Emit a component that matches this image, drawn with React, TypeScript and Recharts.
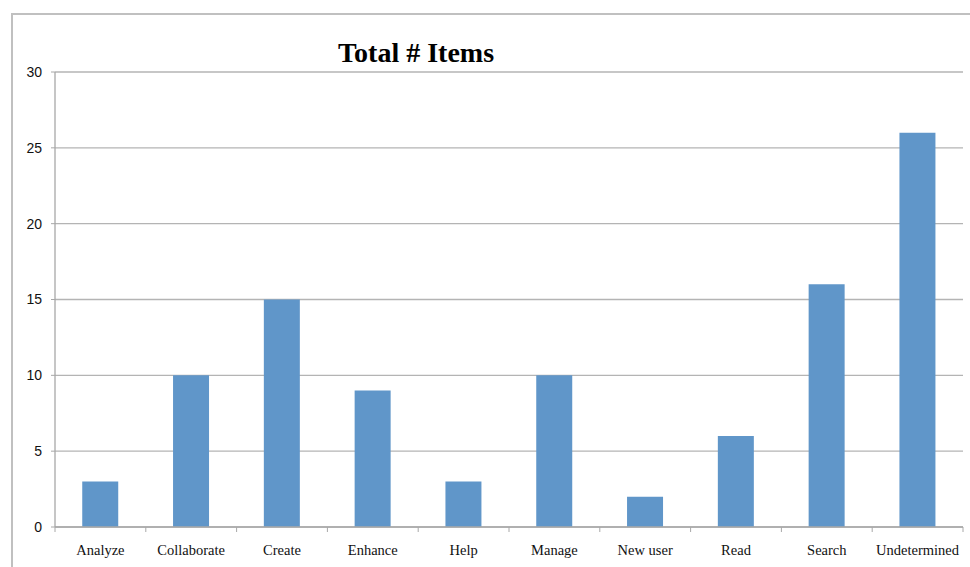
import { BarChart, Bar, XAxis, YAxis, CartesianGrid } from 'recharts';

const categories = ['Analyze', 'Collaborate', 'Create', 'Enhance', 'Help', 'Manage', 'New user', 'Read', 'Search', 'Undetermined'];
const totals = [3, 10, 15, 9, 3, 10, 2, 6, 16, 26];
const yTicks = [0, 5, 10, 15, 20, 25, 30];

const data = categories.map((name, i) => ({ name, total: totals[i] }));

const W = 970;
const H = 567;
const M = { top: 72, right: 7, bottom: 10, left: 10 };
const Y_W = 45;
const X_H = 30;
const band = (W - M.left - Y_W - M.right) / categories.length;

// label in the middle, tick mark on the category border (like Excel)
function CatTick({ x, y, payload, index }: any) {
  const last = index === categories.length - 1;
  return (
    <g>
      <line x1={x - band / 2} x2={x - band / 2} y1={y - 8} y2={y - 3} stroke="#a8a8a8" />
      {last && <line x1={x + band / 2} x2={x + band / 2} y1={y - 8} y2={y - 3} stroke="#a8a8a8" />}
      <text x={x} y={y + 20} textAnchor="middle" fontFamily="'Liberation Serif', serif" fontSize={14.5} fill="#111">
        {payload.value}
      </text>
    </g>
  );
}

export default function App() {
  return (
    <div style={{ position: 'absolute', left: 0, top: 0, width: W, height: H, background: '#fff', overflow: 'hidden' }}>
      <div style={{ position: 'absolute', left: 11, top: 13, width: 1000, height: 600, border: '2px solid #c0c0c0' }} />
      <div
        style={{
          position: 'absolute', left: 338, top: 37, fontFamily: "'Liberation Serif', serif",
          fontWeight: 'bold', fontSize: 28, color: '#000', whiteSpace: 'nowrap', lineHeight: '32px',
        }}
      >
        Total # Items
      </div>
      <div style={{ position: 'absolute', left: 0, top: 0 }}>
        <BarChart width={W} height={H} data={data} margin={M} barCategoryGap="30%">
          <CartesianGrid vertical={false} stroke="#b4b4b4" strokeWidth={1.3} />
          <XAxis
            dataKey="name"
            height={X_H}
            axisLine={{ stroke: '#a8a8a8', strokeWidth: 1.3 }}
            tickLine={false}
            tick={<CatTick />}
            interval={0}
          />
          <YAxis
            domain={[0, 30]}
            ticks={yTicks}
            width={Y_W}
            tickSize={4}
            tickMargin={9}
            axisLine={{ stroke: '#a8a8a8', strokeWidth: 1.3 }}
            tickLine={{ stroke: '#a8a8a8' }}
            tick={{ fontFamily: "'Liberation Sans', Arial, sans-serif", fontSize: 14, fill: '#111' }}
          />
          <Bar dataKey="total" fill="#6096c9" isAnimationActive={false} />
        </BarChart>
      </div>
    </div>
  );
}
